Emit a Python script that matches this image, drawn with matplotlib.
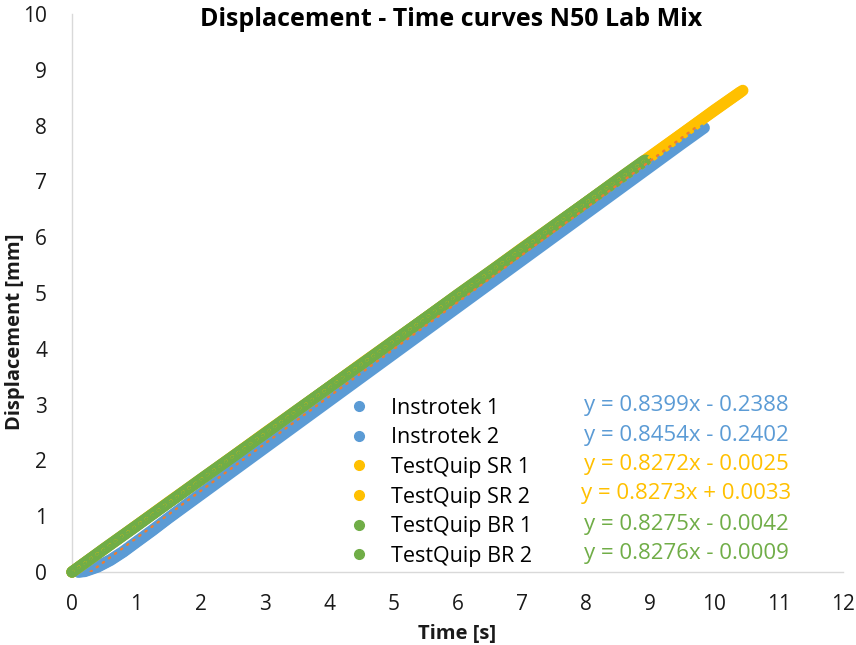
"""Displacement - time curves for the N50 lab mix (Instrotek vs TestQuip)."""

import matplotlib

matplotlib.use("Agg")
import matplotlib.pyplot as plt
from matplotlib.lines import Line2D

plt.rcParams["font.family"] = ["Open Sans", "DejaVu Sans"]

# ---- data ----
SERIES = ["Instrotek 1", "Instrotek 2", "TestQuip SR 1", "TestQuip SR 2",
          "TestQuip BR 1", "TestQuip BR 2"]

T_INSTROTEK_1 = [0.10, 0.20, 0.40, 0.60, 0.80, 1.0, 1.25, 1.5, 2.0, 2.5, 3.0, 3.5, 4.0,
                 4.5, 5.0, 5.5, 6.0, 6.5, 7.0, 7.5, 8.0, 8.5, 9.0, 9.5, 9.84]
D_INSTROTEK_1 = [0.00, 0.01, 0.09, 0.21, 0.36, 0.53, 0.74, 0.96, 1.38, 1.80, 2.22, 2.64, 3.06,
                 3.48, 3.90, 4.32, 4.74, 5.16, 5.58, 6.00, 6.42, 6.84, 7.26, 7.68, 7.96]

T_INSTROTEK_2 = [0.10, 0.20, 0.40, 0.60, 0.80, 1.0, 1.25, 1.5, 2.0, 2.5, 3.0, 3.5, 4.0,
                 4.5, 5.0, 5.5, 6.0, 6.5, 7.0, 7.5, 8.0, 8.5, 9.0, 9.5, 9.75]
D_INSTROTEK_2 = [0.00, 0.02, 0.10, 0.22, 0.37, 0.54, 0.75, 0.97, 1.40, 1.83, 2.25, 2.68, 3.10,
                 3.52, 3.95, 4.37, 4.80, 5.22, 5.65, 6.07, 6.50, 6.92, 7.34, 7.77, 7.96]

T_SR_1 = [0.0, 0.5, 1.0, 1.5, 2.0, 2.5, 3.0, 3.5, 4.0, 4.5, 5.0, 5.5, 6.0, 6.5,
          7.0, 7.5, 8.0, 8.5, 9.0, 9.5, 10.0, 10.44]
D_SR_1 = [0.00, 0.41, 0.83, 1.24, 1.65, 2.07, 2.48, 2.89, 3.31, 3.72, 4.13, 4.55,
          4.96, 5.37, 5.79, 6.20, 6.62, 7.03, 7.44, 7.86, 8.27, 8.63]

T_SR_2 = [0.0, 0.5, 1.0, 1.5, 2.0, 2.5, 3.0, 3.5, 4.0, 4.5, 5.0, 5.5, 6.0, 6.5,
          7.0, 7.5, 8.0, 8.5, 9.0, 9.5, 10.0, 10.40]
D_SR_2 = [0.00, 0.42, 0.83, 1.25, 1.66, 2.07, 2.49, 2.90, 3.31, 3.73, 4.14, 4.55,
          4.97, 5.38, 5.80, 6.21, 6.62, 7.04, 7.45, 7.86, 8.28, 8.60]

T_BR_1 = [0.0, 0.5, 1.0, 1.5, 2.0, 2.5, 3.0, 3.5, 4.0, 4.5, 5.0, 5.5, 6.0, 6.5,
          7.0, 7.5, 8.0, 8.5, 8.93]
D_BR_1 = [0.00, 0.41, 0.82, 1.24, 1.65, 2.06, 2.48, 2.89, 3.31, 3.72, 4.13, 4.55,
          4.96, 5.37, 5.79, 6.20, 6.62, 7.03, 7.38]

T_BR_2 = [0.0, 0.5, 1.0, 1.5, 2.0, 2.5, 3.0, 3.5, 4.0, 4.5, 5.0, 5.5, 6.0, 6.5,
          7.0, 7.5, 8.0, 8.5, 8.90]
D_BR_2 = [0.00, 0.42, 0.83, 1.24, 1.66, 2.07, 2.48, 2.90, 3.31, 3.72, 4.14, 4.55,
          4.97, 5.38, 5.79, 6.21, 6.62, 7.04, 7.37]

# linear trendlines shown on the chart
SLOPES = [0.8399, 0.8454, 0.8272, 0.8273, 0.8275, 0.8276]
INTERCEPTS = [-0.2388, -0.2402, -0.0025, 0.0033, -0.0042, -0.0009]
EQUATIONS = ["y = 0.8399x - 0.2388", "y = 0.8454x - 0.2402", "y = 0.8272x - 0.0025",
             "y = 0.8273x + 0.0033", "y = 0.8275x - 0.0042", "y = 0.8276x - 0.0009"]

BLUE = "#5B9BD5"
ORANGE = "#ED7D31"
GOLD = "#FFC000"
GREEN = "#70AD47"
SERIES_COLORS = [BLUE, BLUE, GOLD, GOLD, GREEN, GREEN]
TREND_COLORS = [BLUE, ORANGE, GOLD, GOLD, GREEN, GREEN]
TEXT = "#1a1a1a"
AXIS_GRAY = "#D9D9D9"

fig = plt.figure(figsize=(8.56, 6.45), dpi=100)
ax = fig.add_axes([72 / 856, 73 / 645, 771 / 856, 558 / 645])

series_data = [(T_INSTROTEK_1, D_INSTROTEK_1), (T_INSTROTEK_2, D_INSTROTEK_2),
               (T_SR_1, D_SR_1), (T_SR_2, D_SR_2), (T_BR_1, D_BR_1), (T_BR_2, D_BR_2)]

for (t, d), color in zip(series_data, SERIES_COLORS):
    ax.plot(t, d, color=color, lw=8.2, solid_capstyle="round",
            solid_joinstyle="round", clip_on=False, zorder=3)

# dotted trendlines over each series' time range
for (t, _d), m, b, color in zip(series_data, SLOPES, INTERCEPTS, TREND_COLORS):
    x0, x1 = t[0], t[-1]
    ax.plot([x0, x1], [m * x0 + b, m * x1 + b], color=color, lw=1.7,
            linestyle=(0, (0.6, 2.6)), dash_capstyle="round", zorder=4)

ax.set_xlim(0, 12)
ax.set_ylim(0, 10)
ax.set_xticks(range(0, 13))
ax.set_yticks(range(0, 11))
ax.tick_params(axis="both", length=0, labelsize=15, colors=TEXT)
ax.tick_params(axis="x", pad=16)
ax.tick_params(axis="y", pad=18)
for side in ("top", "right"):
    ax.spines[side].set_visible(False)
for side in ("left", "bottom"):
    ax.spines[side].set_color(AXIS_GRAY)
    ax.spines[side].set_linewidth(1.0)

ax.set_xlabel("Time [s]", fontsize=14.5, fontweight="bold", color=TEXT, labelpad=6)
fig.text(15 / 856, 1 - 332 / 645, "Displacement [mm]", rotation=90, ha="center",
         va="center", fontsize=14.5, fontweight="bold", color=TEXT)
fig.text(451 / 856, 1 - 19 / 645, "Displacement - Time curves N50 Lab Mix",
         ha="center", va="center", fontsize=18, fontweight="bold", color="black")

handles = [Line2D([], [], linestyle="none", marker="o", markersize=7,
                  color=c) for c in SERIES_COLORS]
ax.legend(handles, SERIES, loc="upper left", bbox_to_anchor=(337 / 856, 1 - 387 / 645),
          bbox_transform=fig.transFigure, frameon=False, fontsize=15.5,
          handlelength=1.0, handletextpad=1.0, labelspacing=0.40, borderpad=0)

# trendline equations
EQ_Y = [2.99, 2.455, 1.92, 1.40, 0.86, 0.34]
for eq, y, color in zip(EQUATIONS, EQ_Y, SERIES_COLORS):
    ax.text(9.56, y, eq, ha="center", va="center", fontsize=16, color=color)

fig.savefig("out.png", dpi=100)
